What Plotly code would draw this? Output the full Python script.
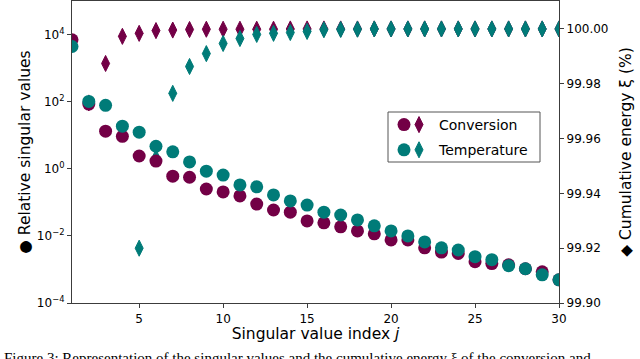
import plotly.graph_objects as go

# ---------------- data ----------------
j_index = list(range(1, 31))

conv_sv = [7.0e3, 85, 13.2, 9.3, 2.4, 1.7, 0.60, 0.56, 0.25, 0.204,
           0.155, 0.089, 0.059, 0.051, 0.028, 0.0245, 0.0186, 0.0141, 0.0115, 0.0076,
           0.0076, 0.0044, 0.0033, 0.0030, 0.0017, 0.0015, 0.00138, 0.00105, 0.00085, 0.00049]
temp_sv = [4.4e3, 102, 78, 18.6, 12.3, 4.7, 3.2, 1.6, 0.85, 0.65,
           0.33, 0.29, 0.166, 0.11, 0.083, 0.051, 0.042, 0.030, 0.020, 0.0141,
           0.0100, 0.0066, 0.0044, 0.0038, 0.0024, 0.00195, 0.00129, 0.00105, 0.00069, 0.00049]

conv_energy = [None, 99.973, 99.9874, 99.9973, 99.9984, 99.9994, 99.9996, 99.9998, 99.9999, 99.9999,
               99.9999, 99.9999, 99.9999, 100.0, 100.0, 100.0, 100.0, 100.0, 100.0, 100.0,
               100.0, 100.0, 100.0, 100.0, 100.0, 100.0, 100.0, 100.0, 100.0, 100.0]
temp_energy = [None, None, None, None, 99.920, 99.953, 99.9765, 99.9863, 99.991, 99.9947,
               99.9965, 99.998, 99.9984, 99.9987, 99.9991, 99.9997, 99.9998, 99.9999, 100.0, 100.0,
               100.0, 100.0, 100.0, 100.0, 100.0, 100.0, 100.0, 100.0, 100.0, 100.0]

series_names = ["Conversion", "Temperature"]
x_ticks = [5, 10, 15, 20, 25, 30]
left_tickvals = [1e-4, 1e-2, 1, 1e2, 1e4]
left_ticktext = ["10<sup>\u22124</sup>", "10<sup>\u22122</sup>", "10<sup>0</sup>",
                 "10<sup>2</sup>", "10<sup>4</sup>"]
right_tickvals = [99.90, 99.92, 99.94, 99.96, 99.98, 100.00]

# ---------------- style ----------------
PURPLE = "#730046"
TEAL = "#007B78"
FONT = "DejaVu Sans"
AX = "#3c3c3c"

fig = go.Figure()

# diamonds: cumulative energy (primary y, drawn underneath)
for name, vals, col in [(series_names[0], conv_energy, PURPLE), (series_names[1], temp_energy, TEAL)]:
    fig.add_trace(go.Scatter(
        x=j_index, y=vals, mode="markers", name=name, yaxis="y", legend="legend2",
        marker=dict(symbol="diamond-tall", size=11.5, color=col, line=dict(color=col, width=1)),
        cliponaxis=True, legendgroup=name + "d"))

# circles: relative singular values (overlaying log axis, drawn on top)
for name, vals, col in [(series_names[0], conv_sv, PURPLE), (series_names[1], temp_sv, TEAL)]:
    fig.add_trace(go.Scatter(
        x=j_index, y=vals, mode="markers", name=" ", yaxis="y2", legend="legend",
        marker=dict(symbol="circle", size=13, color=col, line=dict(width=0)),
        cliponaxis=True, legendgroup=name + "c"))

L, R, T, B = 72, 81, 1, 56
W, H = 640, 359
pw, ph = W - L - R, H - T - B

def px(xp):
    return (xp - L) / pw

def py(yp):
    return (H - B - yp) / ph

fig.update_layout(
    width=W, height=H,
    margin=dict(l=L, r=R, t=T, b=B, pad=0),
    paper_bgcolor="white", plot_bgcolor="white",
    font=dict(family=FONT, size=12, color="black"),
    showlegend=True,
    xaxis=dict(range=[1, 30], tickvals=x_ticks, ticks="outside", ticklen=4, tickcolor=AX,
               showline=True, linecolor=AX, linewidth=1.2, mirror=True, showgrid=False,
               zeroline=False, tickfont=dict(size=12),
               title=dict(text="Singular value index <i>j</i>", font=dict(size=15.5), standoff=3)),
    yaxis=dict(side="right", range=[99.90, 100.0102], tickvals=right_tickvals, tickformat=".2f",
               ticks="outside", ticklen=4, tickcolor=AX, showline=True, linecolor=AX, linewidth=1.2,
               showgrid=False, zeroline=False, tickfont=dict(size=12),
               title=dict(text="\u25c6 Cumulative energy \u03be (%)", font=dict(size=15.5), standoff=12)),
    yaxis2=dict(type="log", side="left", overlaying="y", range=[-4, 5],
                tickvals=left_tickvals, ticktext=left_ticktext,
                ticks="outside", ticklen=4, tickcolor=AX, showline=True, linecolor=AX, linewidth=1.2,
                showgrid=False, zeroline=False, tickfont=dict(size=12),
                title=dict(text="\u25cf Relative singular values", font=dict(size=15.5), standoff=2)),
    legend=dict(x=px(384), y=py(109), xanchor="left", yanchor="top", bgcolor="rgba(0,0,0,0)",
                borderwidth=0, font=dict(size=14), traceorder="grouped", tracegroupgap=4,
                itemwidth=30),
    legend2=dict(x=px(399), y=py(109), xanchor="left", yanchor="top", bgcolor="rgba(0,0,0,0)",
                 borderwidth=0, font=dict(size=14), traceorder="grouped", tracegroupgap=4,
                 itemwidth=30),
    shapes=[dict(type="rect", xref="paper", yref="paper",
                 x0=px(388), x1=px(540), y0=py(162), y1=py(112),
                 line=dict(color="#555555", width=1), fillcolor="rgba(255,255,255,0.8)",
                 layer="below")],
    annotations=[dict(text="Figure 3: Representation of the singular values and the cumulative energy \u03be of the conversion and",
                      xref="paper", yref="paper", x=px(2), y=py(348), xanchor="left", yanchor="top",
                      showarrow=False, font=dict(family="Liberation Serif", size=15, color="black"))],
)

fig.write_html("out.html", config={"displayModeBar": False},
               post_script="document.body.style.margin='0';document.body.style.padding='0';")
